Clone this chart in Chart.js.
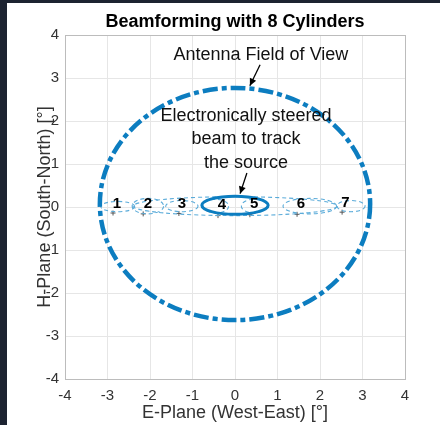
<!DOCTYPE html>
<html lang="en">
<head>
    <meta charset="UTF-8">
    <title>Beamforming with 8 Cylinders</title>
    <script src="https://cdn.jsdelivr.net/npm/chart.js"></script>
    <style>
        body {
            margin: 0;
            background: #1c2331;
            width: 440px;
            height: 425px;
            overflow: hidden;
        }
        .wrap {
            position: absolute;
            left: 7px;
            top: 3px;
            width: 433px;
            height: 422px;
            background: #fff;
        }
    </style>
</head>
<body>
    <div class="wrap"><canvas id="beam-chart"></canvas></div>

    <script>
        // axis ticks
        const xTicks = [-4, -3, -2, -1, 0, 1, 2, 3, 4];
        const yTicks = [-4, -3, -2, -1, 0, 1, 2, 3, 4];

        // beam labels and phase centre markers
        const beamLabels = ['1', '2', '3', '4', '5', '6', '7'];
        const labelX = [-2.78, -2.05, -1.25, -0.31, 0.45, 1.55, 2.6];
        const labelY = [0.08, 0.08, 0.08, 0.05, 0.07, 0.08, 0.1];
        const markerX = [-2.87, -2.16, -1.32, -0.40, 0.35, 1.46, 2.52];
        const markerY = [-0.14, -0.16, -0.15, -0.2, -0.18, -0.17, -0.12];

        // dashed beam footprints (centre x, centre y, half width, half height)
        const beamCx = [-2.76, -2.05, -1.25, -0.45, 0.45, 1.76, 2.73, 0];
        const beamCy = [0.01, 0.02, 0.02, 0.02, 0.02, 0.02, 0.02, 0.02];
        const beamRx = [0.40, 0.37, 0.38, 0.30, 0.30, 0.63, 0.33, 2.4];
        const beamRy = [0.12, 0.18, 0.13, 0.16, 0.16, 0.18, 0.13, 0.22];

        // steered beam (solid) and field of view (dash-dot)
        const steered = [0, 0.04, 0.78, 0.21];
        const fieldOfView = [0, 0.07, 3.18, 2.7];

        // annotations
        const fovText = ['Antenna Field of View'];
        const fovTextPos = [0.61, 3.54];
        const fovArrow = [0.59, 3.31, 0.35, 2.82];
        const steerText = ['Electronically steered', 'beam to track', 'the source'];
        const steerTextX = 0.26;
        const steerTextY = [2.12, 1.57, 1.03];
        const steerArrow = [0.28, 0.79, 0.12, 0.31];

        const blue = '#0c7dc0';
        const lightBlue = '#5aabd9';
        const gridCol = '#e6e6e6';
        const boxCol = '#bcbcbc';
        const font = '"Liberation Sans", Arial, sans-serif';

        function arrow(ctx, x1, y1, x2, y2) {
            const a = Math.atan2(y2 - y1, x2 - x1);
            ctx.beginPath();
            ctx.moveTo(x1, y1);
            ctx.lineTo(x2, y2);
            ctx.stroke();
            ctx.beginPath();
            ctx.moveTo(x2, y2);
            ctx.lineTo(x2 - 8 * Math.cos(a - 0.45), y2 - 8 * Math.sin(a - 0.45));
            ctx.lineTo(x2 - 8 * Math.cos(a + 0.45), y2 - 8 * Math.sin(a + 0.45));
            ctx.closePath();
            ctx.fill();
        }

        const drawingPlugin = {
            id: 'drawing',
            afterDatasetsDraw(chart) {
                const ctx = chart.ctx;
                const xs = chart.scales.x, ys = chart.scales.y;
                const px = v => xs.getPixelForValue(v);
                const py = v => ys.getPixelForValue(v);
                const pw = v => Math.abs(xs.getPixelForValue(v) - xs.getPixelForValue(0));
                const ph = v => Math.abs(ys.getPixelForValue(v) - ys.getPixelForValue(0));
                ctx.save();

                // beam footprints
                ctx.strokeStyle = lightBlue;
                ctx.lineWidth = 1.1;
                ctx.setLineDash([4, 3]);
                beamCx.forEach((c, i) => {
                    ctx.beginPath();
                    ctx.ellipse(px(c), py(beamCy[i]), pw(beamRx[i]), ph(beamRy[i]), 0, 0, Math.PI * 2);
                    ctx.stroke();
                });

                // steered beam
                ctx.setLineDash([]);
                ctx.strokeStyle = blue;
                ctx.lineWidth = 3;
                ctx.beginPath();
                ctx.ellipse(px(steered[0]), py(steered[1]), pw(steered[2]), ph(steered[3]), 0, 0, Math.PI * 2);
                ctx.stroke();

                // field of view
                ctx.lineWidth = 4.5;
                ctx.setLineDash([15, 4, 5, 4]);
                ctx.beginPath();
                ctx.ellipse(px(fieldOfView[0]), py(fieldOfView[1]), pw(fieldOfView[2]), ph(fieldOfView[3]), 0, 0, Math.PI * 2);
                ctx.stroke();
                ctx.setLineDash([]);

                // beam numbers
                ctx.fillStyle = '#000';
                ctx.textAlign = 'center';
                ctx.textBaseline = 'middle';
                ctx.font = 'bold 15px ' + font;
                beamLabels.forEach((t, i) => ctx.fillText(t, px(labelX[i]), py(labelY[i])));

                // annotations
                ctx.font = '18px ' + font;
                ctx.fillStyle = '#111';
                ctx.fillText(fovText[0], px(fovTextPos[0]), py(fovTextPos[1]));
                steerText.forEach((t, i) => {
                    ctx.fillText(t, px(steerTextX), py(steerTextY[i]));
                });
                ctx.strokeStyle = '#000';
                ctx.fillStyle = '#000';
                ctx.lineWidth = 1.3;
                arrow(ctx, px(fovArrow[0]), py(fovArrow[1]), px(fovArrow[2]), py(fovArrow[3]));
                arrow(ctx, px(steerArrow[0]), py(steerArrow[1]), px(steerArrow[2]), py(steerArrow[3]));
                ctx.restore();
            },
            afterDraw(chart) {
                const ctx = chart.ctx;
                const a = chart.chartArea;
                ctx.save();
                ctx.textAlign = 'center';
                ctx.textBaseline = 'middle';
                ctx.fillStyle = '#000';
                ctx.font = 'bold 18px ' + font;
                ctx.fillText('Beamforming with 8 Cylinders', (a.left + a.right) / 2, 19);
                ctx.fillStyle = '#333';
                ctx.font = '18px ' + font;
                ctx.fillText('E-Plane (West-East) [°]', (a.left + a.right) / 2, 410);
                ctx.translate(38, (a.top + a.bottom) / 2);
                ctx.rotate(-Math.PI / 2);
                ctx.fillText('H-Plane (South-North) [°]', 0, 0);
                ctx.restore();
            }
        };

        const ctxBeam = document.getElementById('beam-chart').getContext('2d');
        const beamChart = new Chart(ctxBeam, {
            type: 'scatter',
            data: {
                datasets: [{
                    label: 'Phase centres',
                    data: markerX.map((x, i) => ({ x, y: markerY[i] })),
                    pointStyle: 'cross',
                    pointRadius: 2.5,
                    borderColor: '#555',
                    borderWidth: 1
                }]
            },
            options: {
                responsive: true,
                maintainAspectRatio: false,
                animation: false,
                layout: { padding: { top: 32, right: 35, left: 0, bottom: 0 } },
                scales: {
                    x: {
                        min: -4, max: 4,
                        afterFit: s => { s.height = 46; },
                        afterBuildTicks: s => { s.ticks = xTicks.map(v => ({ value: v })); },
                        grid: {
                            color: c => (c.tick && Math.abs(c.tick.value) === 4) ? boxCol : gridCol,
                            drawTicks: false
                        },
                        border: { color: boxCol },
                        ticks: { padding: 8, color: '#333', font: { size: 15, family: font } }
                    },
                    y: {
                        min: -4, max: 4,
                        afterFit: s => { s.width = 58; },
                        afterBuildTicks: s => { s.ticks = yTicks.map(v => ({ value: v })); },
                        grid: {
                            color: c => (c.tick && Math.abs(c.tick.value) === 4) ? boxCol : gridCol,
                            drawTicks: false
                        },
                        border: { color: boxCol },
                        ticks: { padding: 6, color: '#333', font: { size: 15, family: font } }
                    }
                },
                plugins: {
                    legend: { display: false },
                    tooltip: { enabled: false }
                }
            },
            plugins: [drawingPlugin]
        });
    </script>
</body>
</html>
